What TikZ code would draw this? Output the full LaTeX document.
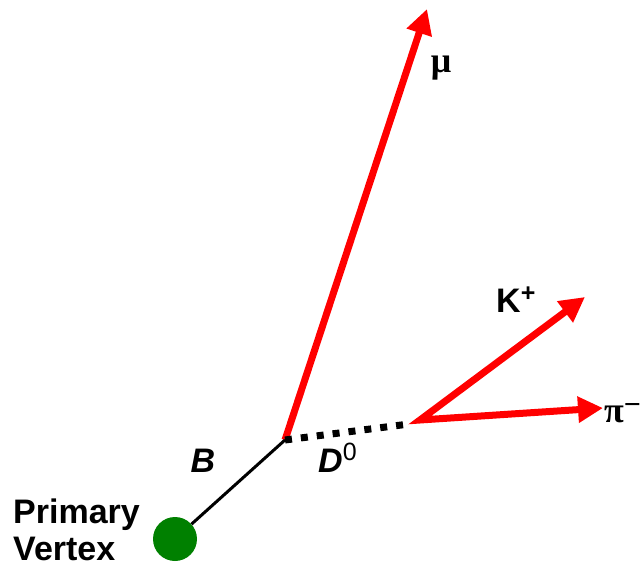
\documentclass[tikz,border=0pt]{standalone}
\usepackage{fontspec}
\setmainfont{Liberation Sans}
\newfontfamily\greekfont{Liberation Serif}
\usetikzlibrary{arrows.meta}
\definecolor{trackred}{RGB}{255,0,0}
\definecolor{pvgreen}{RGB}{0,128,0}
\tikzset{bigtip/.tip={Triangle[length=25pt,width=25pt]}}
\begin{document}
\begin{tikzpicture}[x=1pt,y=-1pt,
  track/.style={draw=trackred,line width=7pt,line join=miter},
  flight/.style={draw=black,line width=3pt},
  dflight/.style={draw=black,line width=7pt,dash pattern=on 7pt off 9pt},
  lbl/.style={font=\fontsize{34}{38}\selectfont\bfseries},
  glbl/.style={font=\greekfont\fontsize{36}{40}\selectfont\bfseries},
  pvtx/.style={circle,fill=pvgreen,minimum size=44pt,inner sep=0pt}]
\useasboundingbox (0,0) rectangle (641,568);
% vertices and track ends
\node[pvtx] (pv) at (175,539) {};
\coordinate (B) at (285,440);
\coordinate (D) at (420,420);
\coordinate (Dend) at (409,424);
\coordinate (mutip) at (427,9);
\coordinate (Ktip) at (585,297);
\coordinate (pitip) at (603,408);
% tracks
\draw[track,-{bigtip}] (B) -- (mutip);
\draw[track,{bigtip}-{bigtip}] (Ktip) -- (D) -- (pitip);
\draw[flight] (pv) -- (B);
\draw[dflight] (B) -- (Dend);
% labels
\node[glbl,anchor=base] (mulbl) at (441,72) {μ};
\node[lbl,anchor=base west,inner sep=0pt] (klbl) at (496,312) {K\raisebox{11pt}{\fontsize{25}{25}\selectfont +}};
\node[glbl,anchor=base west,inner sep=0pt] (pilbl) at (604,422) {π\raisebox{8pt}{\fontsize{30}{30}\selectfont\bfseries −}};
\node[lbl,anchor=base,inner sep=0pt] (blbl) at (203,472) {\itshape B};
\node[lbl,anchor=base west,inner sep=0pt] (dlbl) at (318,472) {\itshape D\raisebox{12pt}{\fontsize{25}{25}\selectfont\mdseries\upshape 0}};
\node[lbl,anchor=base west,inner sep=0pt] (prim) at (13,523) {Primary};
\node[lbl,anchor=base west,inner sep=0pt] (vert) at (13,560) {Vertex};
\end{tikzpicture}
\end{document}
